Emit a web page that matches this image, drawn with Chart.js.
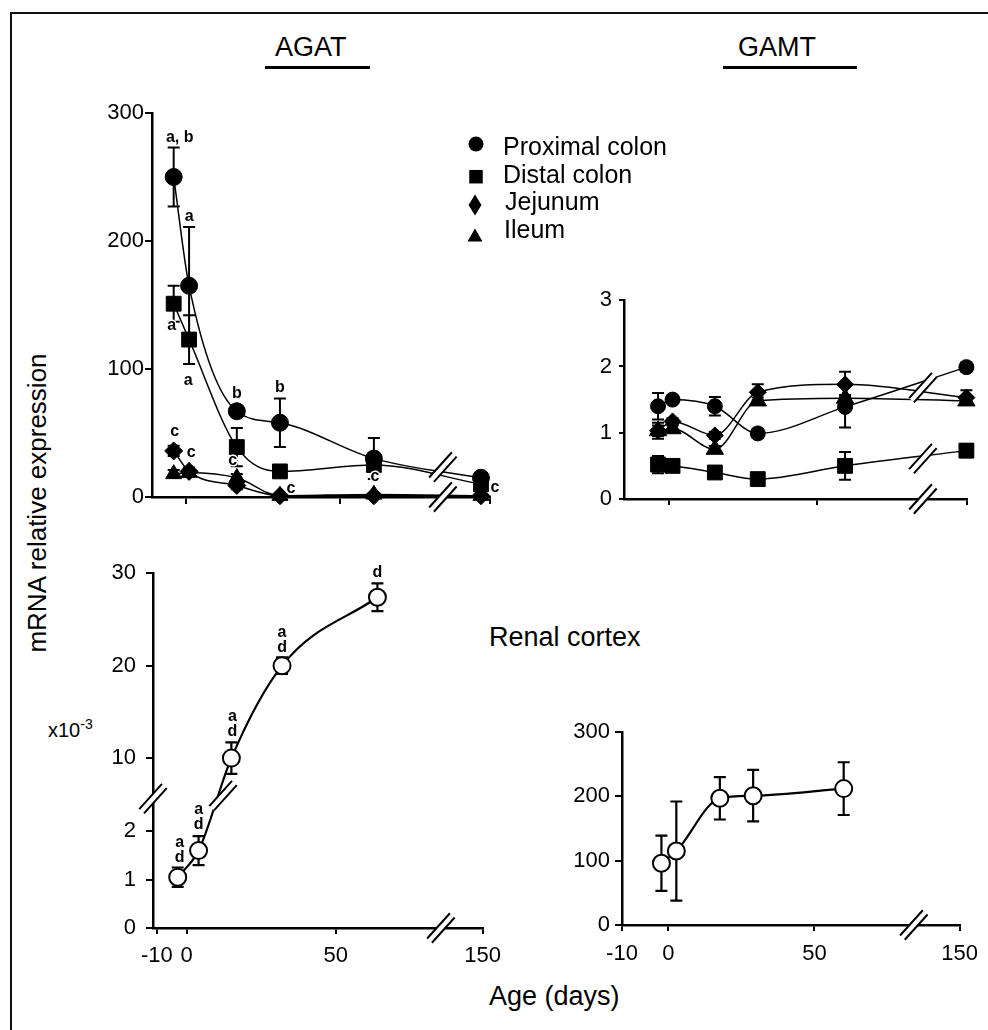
<!DOCTYPE html>
<html><head><meta charset="utf-8">
<script src="https://cdn.jsdelivr.net/npm/chart.js@4.4.1/dist/chart.umd.min.js"></script>
<style>
body{margin:0;background:#fff}
#wrap{position:relative;width:988px;height:1030px;overflow:hidden;background:#fff;font-family:"Liberation Sans",Arial,sans-serif;color:#000}
canvas{position:absolute}
.t{position:absolute;white-space:nowrap;line-height:1}
.ln{position:absolute;background:#000}
</style></head>
<body><div id="wrap">
<div class="ln" style="left:10px;top:12px;width:1.5px;height:1030px;background:#111"></div>
<div class="ln" style="left:10px;top:12px;width:990px;height:1.5px;background:#111"></div>
<div class="t" style="left:275px;top:34px;font-size:27px">AGAT</div>
<div class="ln" style="left:265px;top:66px;width:105px;height:2.5px"></div>
<div class="t" style="left:738px;top:34px;font-size:27px">GAMT</div>
<div class="ln" style="left:723px;top:66px;width:134px;height:2.5px"></div>
<div class="t" style="left:-128px;top:490px;width:330px;text-align:center;font-size:26px;transform:rotate(-90deg)">mRNA relative expression</div>
<div class="t" style="left:489px;top:624px;font-size:27px">Renal cortex</div>
<div class="t" style="left:48px;top:720px;font-size:20px">x10<span style="font-size:14px;position:relative;top:-8px">-3</span></div>
<div class="t" style="left:489px;top:983px;font-size:27px">Age (days)</div>
<canvas id="cA" width="640" height="430" style="left:60px;top:95px"></canvas>
<canvas id="cB" width="428" height="245" style="left:560px;top:280px"></canvas>
<canvas id="cC" width="450" height="420" style="left:60px;top:550px"></canvas>
<canvas id="cD" width="448" height="270" style="left:540px;top:700px"></canvas>
</div>
<script>
const FONT = '"Liberation Sans", Arial, sans-serif';

// ---------- DATA ----------
const seriesNames = ['Proximal colon', 'Distal colon', 'Jejunum', 'Ileum'];

// AGAT, intestine (top-left)
const agatGutDays = [-4, 1, 16.5, 30.5, 61, 133];
const agatProximal = [250, 165, 67, 58, 30, 15];
const agatProximalErr = [23, 46, 4, 19, 16, 3];
const agatDistal = [151, 123, 39, 20, 25, 10];
const agatDistalErr = [14, 19, 15, 3, 4, 2];
const agatJejunum = [36, 20, 9, 1, 1, 1];
const agatJejunumErr = [4, 3, 3, 0, 0, 0];
const agatIleum = [18, 19, 15, 1, 2, 1];
const agatIleumErr = [3, 3, 3, 0, 1, 0];
const agatGutLetterText = ['a, b', 'a', 'a', 'a', 'b', 'b', 'c', 'c', 'c', 'c', 'c', 'c'];
const agatGutLetterAt = [[0,0],[0,1],[1,0],[1,1],[0,2],[0,3],[2,0],[3,1],[3,2],[3,3],[3,4],[3,5]];

// GAMT, intestine (top-right)
const gamtGutDays = [-3.7, 1.2, 15.5, 30, 59.5, 149];
const gamtProximal = [1.40, 1.50, 1.40, 0.99, 1.39, 1.99];
const gamtProximalErr = [0.2, 0.05, 0.14, 0.07, 0.31, 0.07];
const gamtDistal = [0.52, 0.50, 0.40, 0.30, 0.50, 0.73];
const gamtDistalErr = [0.13, 0.05, 0.08, 0.03, 0.21, 0.1];
const gamtJejunum = [1.03, 1.17, 0.96, 1.61, 1.73, 1.53];
const gamtJejunumErr = [0.12, 0.05, 0.05, 0.12, 0.19, 0.11];
const gamtIleum = [1.03, 1.06, 0.75, 1.48, 1.52, 1.48];
const gamtIleumErr = [0.08, 0.05, 0.05, 0.05, 0.05, 0.05];

// AGAT, renal cortex (bottom-left, x10^-3)
const agatRenalDays = [-3, 4, 15, 32, 64];
const agatRenal = [1.05, 1.6, 10.0, 20.0, 27.4];
const agatRenalErr = [0.2, 0.3, 1.7, 0.9, 1.5];
const agatRenalLetterText = ['a\nd', 'a\nd', 'a\nd', 'a\nd', 'd'];
const agatRenalLetterAt = [[0,0],[0,1],[0,2],[0,3],[0,4]];

// GAMT, renal cortex (bottom-right)
const gamtRenalDays = [-2.4, 2.7, 17.6, 29, 60];
const gamtRenal = [96, 115, 197, 201, 212];
const gamtRenalErr = [43, 77, 33, 40, 41];

// tick values / labels
const xTicksTop = [0, 50, 150];
const xTicksBottom = [-10, 0, 50, 150];
const xTickLabelsBottom = ['-10', '0', '50', '150'];
const yTicksAgatGut = [0, 100, 200, 300];
const yTicksGamtGut = [0, 1, 2, 3];
const yTicksAgatRenal = [0, 1, 2, 10, 20, 30];
const yTicksGamtRenal = [0, 100, 200, 300];

// ---------- broken linear scale ----------
class BrokenLinearScale extends Chart.LinearScale {
  _bmap(v, inverse) {
    const cfg = this.chart.config.options.scales[this.id];
    const m = cfg && cfg.breakMap;
    if (!m || v === null || v === undefined || isNaN(v)) return v;
    const a = inverse ? 1 : 0, b = inverse ? 0 : 1;
    let i = 0;
    while (i < m.length - 2 && v > m[i + 1][a]) i++;
    const p = m[i], q = m[i + 1];
    return p[b] + (v - p[a]) * (q[b] - p[b]) / (q[a] - p[a]);
  }
  getPixelForValue(v, idx) { return super.getPixelForValue(this._bmap(v, false), idx); }
  getValueForPixel(p) { return this._bmap(super.getValueForPixel(p), true); }
}
BrokenLinearScale.id = 'brokenLinear';
BrokenLinearScale.defaults = Chart.LinearScale.defaults;
Chart.register(BrokenLinearScale);

function axis(o) {
  const horizontal = o.pos === 'bottom';
  return {
    type: 'brokenLinear', position: o.pos, min: o.min, max: o.max, bounds: 'data',
    breakMap: o.map,
    afterBuildTicks: s => { s.ticks = o.ticks.map(v => ({ value: v })); },
    afterFit: s => { if (horizontal) s.height = o.size; else s.width = o.size; },
    border: { display: true, color: '#000', width: 2.5 },
    grid: { display: true, drawOnChartArea: false, drawTicks: true, tickLength: o.tl, color: '#000', lineWidth: 2 },
    ticks: { display: !!o.labels, padding: o.pad || 0, color: '#000', font: { family: FONT, size: 22 },
             maxRotation: 0, minRotation: 0, autoSkip: false,
             callback: (v, i) => o.labels ? o.labels[i] : '' }
  };
}

function series(label, days, vals, errs, style, r, o) {
  return {
    label, data: days.map((d, i) => ({ x: d, y: vals[i] })), errors: errs,
    borderColor: '#000', borderWidth: o.lw, backgroundColor: o.fill,
    pointStyle: style, pointRadius: r, pointHoverRadius: r,
    pointBackgroundColor: o.fill, pointBorderColor: '#000', pointBorderWidth: o.pbw,
    cubicInterpolationMode: 'monotone', clip: false, showLine: true, fill: false
  };
}

function breakMark(ctx, cx, cy) {
  const ang = 48 * Math.PI / 180, L = 17, s = 3.2;
  const dx = Math.cos(ang) * L, dy = -Math.sin(ang) * L;
  const nx = Math.sin(ang) * s, ny = Math.cos(ang) * s;
  ctx.save();
  ctx.fillStyle = '#fff';
  ctx.beginPath();
  ctx.moveTo(cx - nx - dx, cy - ny - dy); ctx.lineTo(cx - nx + dx, cy - ny + dy);
  ctx.lineTo(cx + nx + dx, cy + ny + dy); ctx.lineTo(cx + nx - dx, cy + ny - dy);
  ctx.closePath(); ctx.fill();
  ctx.strokeStyle = '#000'; ctx.lineWidth = 2;
  ctx.beginPath();
  ctx.moveTo(cx - nx - dx, cy - ny - dy); ctx.lineTo(cx - nx + dx, cy - ny + dy);
  ctx.moveTo(cx + nx - dx, cy + ny - dy); ctx.lineTo(cx + nx + dx, cy + ny + dy);
  ctx.stroke();
  ctx.restore();
}

function marker(ctx, style, x, y, w, h) {
  ctx.beginPath();
  if (style === 'circle') ctx.arc(x, y, w / 2, 0, Math.PI * 2);
  else if (style === 'rect') ctx.rect(x - w / 2, y - h / 2, w, h);
  else if (style === 'rectRot') { ctx.moveTo(x, y - h / 2); ctx.lineTo(x + w / 2, y); ctx.lineTo(x, y + h / 2); ctx.lineTo(x - w / 2, y); ctx.closePath(); }
  else { ctx.moveTo(x, y - h / 2); ctx.lineTo(x + w / 2, y + h / 2); ctx.lineTo(x - w / 2, y + h / 2); ctx.closePath(); }
  ctx.fill();
}

function decor(extra) {
  return {
    id: 'decor',
    beforeDatasetsDraw(chart) {
      const ctx = chart.ctx, ys = chart.scales.y, c = extra.cap;
      ctx.save(); ctx.strokeStyle = '#000'; ctx.lineWidth = extra.ebw;
      chart.data.datasets.forEach((d, di) => {
        if (!d.errors) return;
        const meta = chart.getDatasetMeta(di);
        d.data.forEach((p, j) => {
          const e = d.errors[j]; if (!e) return;
          const x = meta.data[j].x;
          const y1 = ys.getPixelForValue(p.y + e), y2 = ys.getPixelForValue(p.y - e);
          ctx.beginPath();
          ctx.moveTo(x, y1); ctx.lineTo(x, y2);
          ctx.moveTo(x - c, y1); ctx.lineTo(x + c, y1);
          ctx.moveTo(x - c, y2); ctx.lineTo(x + c, y2);
          ctx.stroke();
        });
      });
      ctx.restore();
    },
    afterDatasetsDraw(chart) {
      if (!extra.letterText) return;
      const ctx = chart.ctx;
      ctx.save();
      ctx.font = 'bold 16px ' + FONT;
      ctx.textAlign = 'center'; ctx.textBaseline = 'middle';
      ctx.lineJoin = 'round';
      extra.letterText.forEach((txt, k) => {
        const at = extra.letterAt[k], off = extra.letterOffset[k];
        const el = chart.getDatasetMeta(at[0]).data[at[1]];
        const lines = txt.split('\n');
        lines.forEach((t, li) => {
          const x = el.x + off[0], y = el.y + off[1] - (lines.length - 1 - li) * 15;
          ctx.strokeStyle = '#fff'; ctx.lineWidth = 3; ctx.strokeText(t, x, y);
          ctx.fillStyle = '#000'; ctx.fillText(t, x, y);
        });
      });
      ctx.restore();
    },
    afterDraw(chart) {
      const ctx = chart.ctx, xs = chart.scales.x, ys = chart.scales.y;
      (extra.breaks || []).forEach(b => breakMark(ctx, xs.getPixelForValue(b[0]), ys.getPixelForValue(b[1])));
      if (extra.legend) {
        const L = extra.legend;
        ctx.save();
        ctx.fillStyle = '#000';
        ctx.font = '25px ' + FONT; ctx.textAlign = 'left'; ctx.textBaseline = 'alphabetic';
        chart.data.datasets.forEach((d, i) => {
          const m = L.markers[i];
          marker(ctx, d.pointStyle, m[0], m[1], m[2], m[3]);
          ctx.fillText(d.label, L.textX[i], L.textY[i]);
        });
        ctx.restore();
      }
    }
  };
}

function makeChart(id, datasets, scales, padding, extra) {
  return new Chart(document.getElementById(id), {
    type: 'line',
    data: { datasets },
    options: {
      responsive: false, animation: false, devicePixelRatio: 1, events: [],
      layout: { padding },
      plugins: { legend: { display: false }, tooltip: { enabled: false } },
      scales
    },
    plugins: [decor(extra)]
  });
}

// ---------- Chart A: AGAT intestine ----------
const solidTop = { lw: 1.5, fill: '#000', pbw: 1 };
makeChart('cA', [
  series(seriesNames[0], agatGutDays, agatProximal, agatProximalErr, 'circle', 8.5, solidTop),
  series(seriesNames[1], agatGutDays, agatDistal, agatDistalErr, 'rect', 10.5, solidTop),
  series(seriesNames[2], agatGutDays, agatJejunum, agatJejunumErr, 'rectRot', 9, solidTop),
  series(seriesNames[3], agatGutDays, agatIleum, agatIleumErr, 'triangle', 9.3, solidTop)
], {
  x: axis({ pos: 'bottom', min: -11.04, max: 98.7, map: [[-20, -20], [88, 88], [150, 98.7]], ticks: xTicksTop, size: 28, tl: 7 }),
  y: axis({ pos: 'left', min: 0, max: 300, ticks: yTicksAgatGut, labels: yTicksAgatGut.map(String), size: 92, tl: 7, pad: 1 })
}, { top: 18, right: 210, left: 0, bottom: 0 }, {
  cap: 6, ebw: 2,
  letterText: agatGutLetterText, letterAt: agatGutLetterAt,
  letterOffset: [[6,-39],[0,-69],[-2,22],[-1,41],[0,-18],[0,-35],[1,-19],[2,-20],[-4,-17],[11,-7],[1,-18],[14,-8]],
  breaks: [[83.4, 0], [83.4, 23.4]],
  legend: {
    markers: [[416, 49, 15, 15], [416, 81.7, 13.5, 13.5], [415, 110, 13, 21], [415, 140, 15, 13]],
    textX: [443, 443, 445, 444], textY: [60, 88.3, 115, 143.3]
  }
});

// ---------- Chart B: GAMT intestine ----------
makeChart('cB', [
  series(seriesNames[0], gamtGutDays, gamtProximal, gamtProximalErr, 'circle', 7.5, solidTop),
  series(seriesNames[1], gamtGutDays, gamtDistal, gamtDistalErr, 'rect', 10.5, solidTop),
  series(seriesNames[2], gamtGutDays, gamtJejunum, gamtJejunumErr, 'rectRot', 8.5, solidTop),
  series(seriesNames[3], gamtGutDays, gamtIleum, gamtIleumErr, 'triangle', 10, solidTop)
], {
  x: axis({ pos: 'bottom', min: -15.2, max: 100.7, map: [[-20, -20], [88, 88], [150, 100.7]], ticks: xTicksTop, size: 26, tl: 6 }),
  y: axis({ pos: 'left', min: 0, max: 3, ticks: yTicksGamtGut, labels: yTicksGamtGut.map(String), size: 64, tl: 5, pad: 7 })
}, { top: 16, right: 21, left: 0, bottom: 0 }, {
  cap: 6, ebw: 2,
  breaks: [[85.8, 0], [85.8, 0.61], [85.8, 1.68]]
});

// ---------- Chart C: AGAT renal cortex ----------
const openBottom = { lw: 2.2, fill: '#fff', pbw: 2 };
makeChart('cC', [
  series('Renal cortex', agatRenalDays, agatRenal, agatRenalErr, 'circle', 8.5, openBottom)
], {
  x: axis({ pos: 'bottom', min: -11.29, max: 99.3, map: [[-20, -20], [88, 88], [150, 99.3]], ticks: xTicksBottom, labels: xTickLabelsBottom, size: 42, tl: 6, pad: 9 }),
  y: axis({ pos: 'left', min: 0, max: 7.33, map: [[0, 0], [2.6, 2.6], [6.3, 2.803], [30, 7.33]], ticks: yTicksAgatRenal, labels: yTicksAgatRenal.map(String), size: 93, tl: 7, pad: 10 })
}, { top: 19, right: 27, left: 0, bottom: 0 }, {
  cap: 6, ebw: 2.2,
  letterText: agatRenalLetterText, letterAt: agatRenalLetterAt,
  letterOffset: [[2,-20],[0,-26],[1,-27],[0,-18],[0,-25]],
  breaks: [[85.3, 0], [-11.29, 3.93], [12.2, 5.06]]
});

// ---------- Chart D: GAMT renal cortex ----------
makeChart('cD', [
  series('Renal cortex', gamtRenalDays, gamtRenal, gamtRenalErr, 'circle', 8.5, openBottom)
], {
  x: axis({ pos: 'bottom', min: -15.9, max: 99.7, map: [[-10, -15.9], [-5, -5], [88, 88], [150, 99.7]], ticks: xTicksBottom, labels: xTickLabelsBottom, size: 45, tl: 6, pad: 10 }),
  y: axis({ pos: 'left', min: 0, max: 300, ticks: yTicksGamtRenal, labels: yTicksGamtRenal.map(String), size: 82, tl: 7, pad: 5 })
}, { top: 32, right: 24, left: 0, bottom: 0 }, {
  cap: 6, ebw: 2.2,
  breaks: [[84, 0]]
});
</script>
</body></html>
